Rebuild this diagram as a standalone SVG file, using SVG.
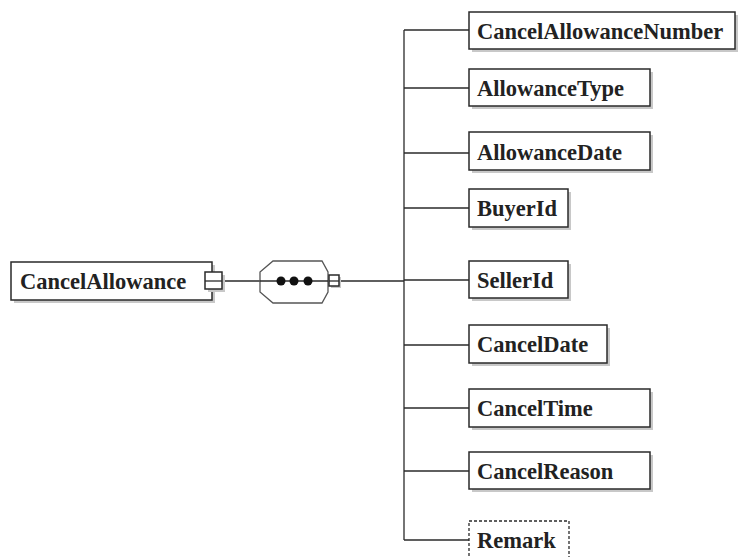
<svg xmlns="http://www.w3.org/2000/svg" width="739" height="557" viewBox="0 0 739 557">
<style>
.box{fill:#fff;stroke:#2a2a2a;stroke-width:1.5}
.dash{fill:#fff;stroke:#2a2a2a;stroke-width:1.3;stroke-dasharray:3 2}
.sh{fill:#c8c8c8}
.t{font-family:"Liberation Serif",serif;font-weight:bold;font-size:22.5px;fill:#222}
.ln{stroke:#2a2a2a;stroke-width:1.3;fill:none}
</style>
<rect width="739" height="557" fill="#fff"/>
<g id="connectors">
<line class="ln" x1="222" y1="281" x2="260" y2="281"/>
<line class="ln" x1="339" y1="281" x2="404" y2="281" stroke-width="2"/>
<line class="ln" x1="404" y1="30" x2="404" y2="540"/>
<line class="ln" x1="404" y1="30" x2="469" y2="30"/>
<line class="ln" x1="404" y1="88" x2="469" y2="88"/>
<line class="ln" x1="404" y1="153" x2="469" y2="153"/>
<line class="ln" x1="404" y1="208" x2="469" y2="208"/>
<line class="ln" x1="404" y1="280" x2="469" y2="280"/>
<line class="ln" x1="404" y1="345" x2="469" y2="345"/>
<line class="ln" x1="404" y1="408" x2="469" y2="408"/>
<line class="ln" x1="404" y1="471" x2="469" y2="471"/>
<line class="ln" x1="404" y1="540" x2="469" y2="540"/>
</g>
<g id="CancelAllowance">
<rect class="sh" x="14" y="265" width="201" height="38"/>
<rect class="box" x="11" y="262" width="201" height="38"/>
<text class="t" x="20" y="289">CancelAllowance</text>
<rect class="sh" x="208" y="275" width="17" height="17"/>
<rect class="box" x="205" y="272" width="17" height="17"/>
<line class="ln" x1="205" y1="281" x2="222" y2="281"/>
</g>
<g id="sequence">
<polygon points="273,261 322,261 328,272 328,292 322,303 273,303 260,292 260,272" fill="#fff" stroke="#555" stroke-width="1.3"/>
<line class="ln" x1="260" y1="281" x2="328" y2="281"/>
<circle cx="281" cy="281" r="4.5" fill="#111"/>
<circle cx="294" cy="281" r="4.5" fill="#111"/>
<circle cx="308" cy="281" r="4.5" fill="#111"/>
<rect class="sh" x="331" y="277" width="10" height="11"/>
<rect class="box" x="329" y="275" width="10" height="11" stroke-width="1.2"/>
<line class="ln" x1="329" y1="281" x2="339" y2="281" stroke-width="1"/>
</g>
<g id="CancelAllowanceNumber">
<rect class="sh" x="472" y="15" width="266" height="37"/>
<rect class="box" x="469" y="12" width="266" height="37"/>
<text class="t" x="477" y="39">CancelAllowanceNumber</text>
</g>
<g id="AllowanceType">
<rect class="sh" x="472" y="72" width="181" height="37"/>
<rect class="box" x="469" y="69" width="181" height="37"/>
<text class="t" x="477" y="96">AllowanceType</text>
</g>
<g id="AllowanceDate">
<rect class="sh" x="472" y="135" width="181" height="38"/>
<rect class="box" x="469" y="132" width="181" height="38"/>
<text class="t" x="477" y="160">AllowanceDate</text>
</g>
<g id="BuyerId">
<rect class="sh" x="472" y="192" width="99" height="38"/>
<rect class="box" x="469" y="189" width="99" height="38"/>
<text class="t" x="477" y="216">BuyerId</text>
</g>
<g id="SellerId">
<rect class="sh" x="472" y="264" width="99" height="37"/>
<rect class="box" x="469" y="261" width="99" height="37"/>
<text class="t" x="477" y="288">SellerId</text>
</g>
<g id="CancelDate">
<rect class="sh" x="472" y="328" width="138" height="38"/>
<rect class="box" x="469" y="325" width="138" height="38"/>
<text class="t" x="477" y="352">CancelDate</text>
</g>
<g id="CancelTime">
<rect class="sh" x="472" y="392" width="181" height="38"/>
<rect class="box" x="469" y="389" width="181" height="38"/>
<text class="t" x="477" y="416">CancelTime</text>
</g>
<g id="CancelReason">
<rect class="sh" x="472" y="455" width="181" height="37"/>
<rect class="box" x="469" y="452" width="181" height="37"/>
<text class="t" x="477" y="479">CancelReason</text>
</g>
<g id="Remark">
<rect class="dash" x="469" y="521" width="100" height="40"/>
<text class="t" x="477" y="548">Remark</text>
</g>
</svg>
